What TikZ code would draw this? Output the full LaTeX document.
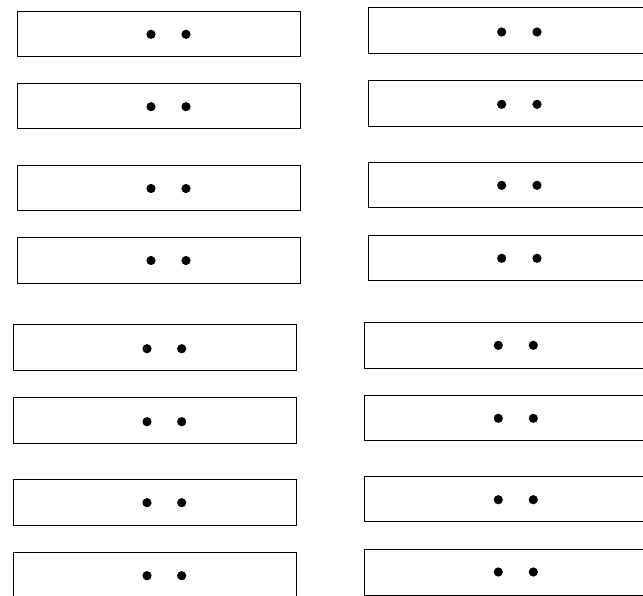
\documentclass[tikz,border=0pt]{standalone}
\begin{document}
\begin{tikzpicture}[x=1pt,y=-1pt,
  slot/.style={draw=black,line width=0.9pt,fill=white,anchor=north west,inner sep=0pt,minimum height=45.5pt},
  leftslot/.style={slot,minimum width=283pt},
  rightslot/.style={slot,minimum width=300pt},
  pip/.style={fill=black}]
\clip (0,0) rectangle (643,595);
\fill[white] (0,0) rectangle (643,595);
% left column, upper four
\foreach \n/\t/\d in {1/10.7/34.3, 2/82.7/106.7, 3/164.5/188.5, 4/237.3/260.5}{
  \node[leftslot] (L\n) at (16.5,\t) {};
  \fill[pip] (151,\d) circle (4.6);
  \fill[pip] (186,\d) circle (4.6);
}
% left column, lower four
\foreach \n/\t/\d in {5/324.3/348.7, 6/397.3/421.7, 7/479/502.7, 8/551.7/575.7}{
  \node[leftslot] (L\n) at (12.5,\t) {};
  \fill[pip] (147,\d) circle (4.6);
  \fill[pip] (181.7,\d) circle (4.6);
}
% right column, upper four
\foreach \n/\t/\d in {1/7.3/32, 2/80/104.3, 3/161.7/185.3, 4/234.7/258.3}{
  \node[rightslot] (R\n) at (368,\t) {};
  \fill[pip] (501.7,\d) circle (4.6);
  \fill[pip] (537,\d) circle (4.6);
}
% right column, lower four
\foreach \n/\t/\d in {5/322/345.3, 6/394.7/418.3, 7/475.7/499.7, 8/549/572}{
  \node[rightslot] (R\n) at (363.5,\t) {};
  \fill[pip] (498.3,\d) circle (4.6);
  \fill[pip] (533.3,\d) circle (4.6);
}
\end{tikzpicture}
\end{document}
